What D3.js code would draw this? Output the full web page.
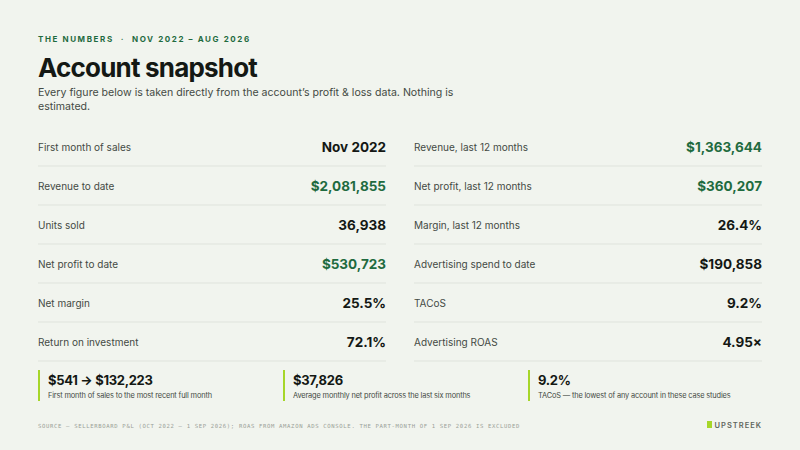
<!DOCTYPE html>
<html lang="en">
<head>
<meta charset="UTF-8">
<title>Account snapshot</title>
<style>
  body { margin: 0; background: #f1f4ee; }
  svg { display: block; font-family: "Inter", "Noto Sans", sans-serif; }
</style>
</head>
<body>
<svg id="chart" width="800" height="450"></svg>
<script src="https://d3js.org/d3.v7.min.js"></script>
<script>
const leftLabels = ["First month of sales", "Revenue to date", "Units sold", "Net profit to date", "Net margin", "Return on investment"];
const leftValues = ["Nov 2022", "$2,081,855", "36,938", "$530,723", "25.5%", "72.1%"];
const leftGreen = [false, true, false, true, false, false];
const rightLabels = ["Revenue, last 12 months", "Net profit, last 12 months", "Margin, last 12 months", "Advertising spend to date", "TACoS", "Advertising ROAS"];
const rightValues = ["$1,363,644", "$360,207", "26.4%", "$190,858", "9.2%", "4.95×"];
const rightGreen = [true, true, false, false, false, false];
const calloutValues = ["$541 → $132,223", "$37,826", "9.2%"];
const calloutNotes = ["First month of sales to the most recent full month",
  "Average monthly net profit across the last six months",
  "TACoS — the lowest of any account in these case studies"];

const svg = d3.select("#chart");
const green = "#1f6b3f", dark = "#141814", grey = "#444a44", lime = "#a6d629";

svg.append("rect").attr("width", 800).attr("height", 450).attr("fill", "#f1f4ee");

svg.append("text").attr("x", 38).attr("y", 42)
  .attr("font-size", 8).attr("font-weight", 700).attr("letter-spacing", 1.6)
  .attr("fill", green).text("THE NUMBERS\u00a0\u00a0·\u00a0\u00a0NOV 2022 – AUG 2026");
svg.append("text").attr("x", 38).attr("y", 77)
  .attr("font-size", 26).attr("font-weight", 700).attr("letter-spacing", -0.8)
  .attr("fill", dark).text("Account snapshot");
svg.append("text").attr("x", 38).attr("y", 96).attr("font-size", 10.6).attr("fill", grey)
  .text("Every figure below is taken directly from the account’s profit & loss data. Nothing is");
svg.append("text").attr("x", 38).attr("y", 110).attr("font-size", 10.6).attr("fill", grey)
  .text("estimated.");

const y = d3.scaleBand().domain(d3.range(6)).range([127, 361]);

function column(labels, values, greens, x0, x1) {
  const g = svg.append("g");
  const rows = g.selectAll("g").data(labels).join("g")
    .attr("transform", (d, i) => `translate(0,${y(i)})`);
  rows.append("text").attr("x", x0).attr("y", y.bandwidth() / 2 + 4.5)
    .attr("font-size", 10).attr("fill", grey).text(d => d);
  rows.append("text").attr("x", x1).attr("y", y.bandwidth() / 2 + 5)
    .attr("text-anchor", "end").attr("font-size", 13.5).attr("font-weight", 700)
    .attr("fill", (d, i) => greens[i] ? green : dark).text((d, i) => values[i]);
  rows.append("line").attr("x1", x0).attr("x2", x1)
    .attr("y1", y.bandwidth()).attr("y2", y.bandwidth())
    .attr("stroke", "#dfe3dc").attr("stroke-width", 1);
}
column(leftLabels, leftValues, leftGreen, 38, 386);
column(rightLabels, rightValues, rightGreen, 414, 762);

const cx = d3.scalePoint().domain(d3.range(3)).range([38, 528]);
const co = svg.selectAll(".callout").data(calloutValues).join("g")
  .attr("class", "callout").attr("transform", (d, i) => `translate(${cx(i)},370)`);
co.append("rect").attr("width", 2).attr("height", 31).attr("fill", lime);
co.append("text").attr("x", 10).attr("y", 15).attr("font-size", 13).attr("font-weight", 700)
  .attr("letter-spacing", -0.3).attr("fill", dark).text(d => d);
co.append("text").attr("x", 10).attr("y", 28).attr("font-size", 7.4).attr("fill", grey)
  .attr("letter-spacing", -0.15).text((d, i) => calloutNotes[i]);

svg.append("text").attr("x", 38).attr("y", 428)
  .attr("font-family", "DejaVu Sans Mono, monospace").attr("font-size", 5.6)
  .attr("letter-spacing", 0.65).attr("fill", "#9aa198")
  .text("SOURCE — SELLERBOARD P&L (OCT 2022 – 1 SEP 2026); ROAS FROM AMAZON ADS CONSOLE. THE PART-MONTH OF 1 SEP 2026 IS EXCLUDED");
svg.append("rect").attr("x", 707).attr("y", 421).attr("width", 5).attr("height", 7).attr("fill", lime);
svg.append("text").attr("x", 762).attr("y", 428).attr("text-anchor", "end")
  .attr("font-size", 7.5).attr("font-weight", 600).attr("letter-spacing", 1)
  .attr("fill", "#5f665d").text("UPSTREEK");
</script>
</body>
</html>
